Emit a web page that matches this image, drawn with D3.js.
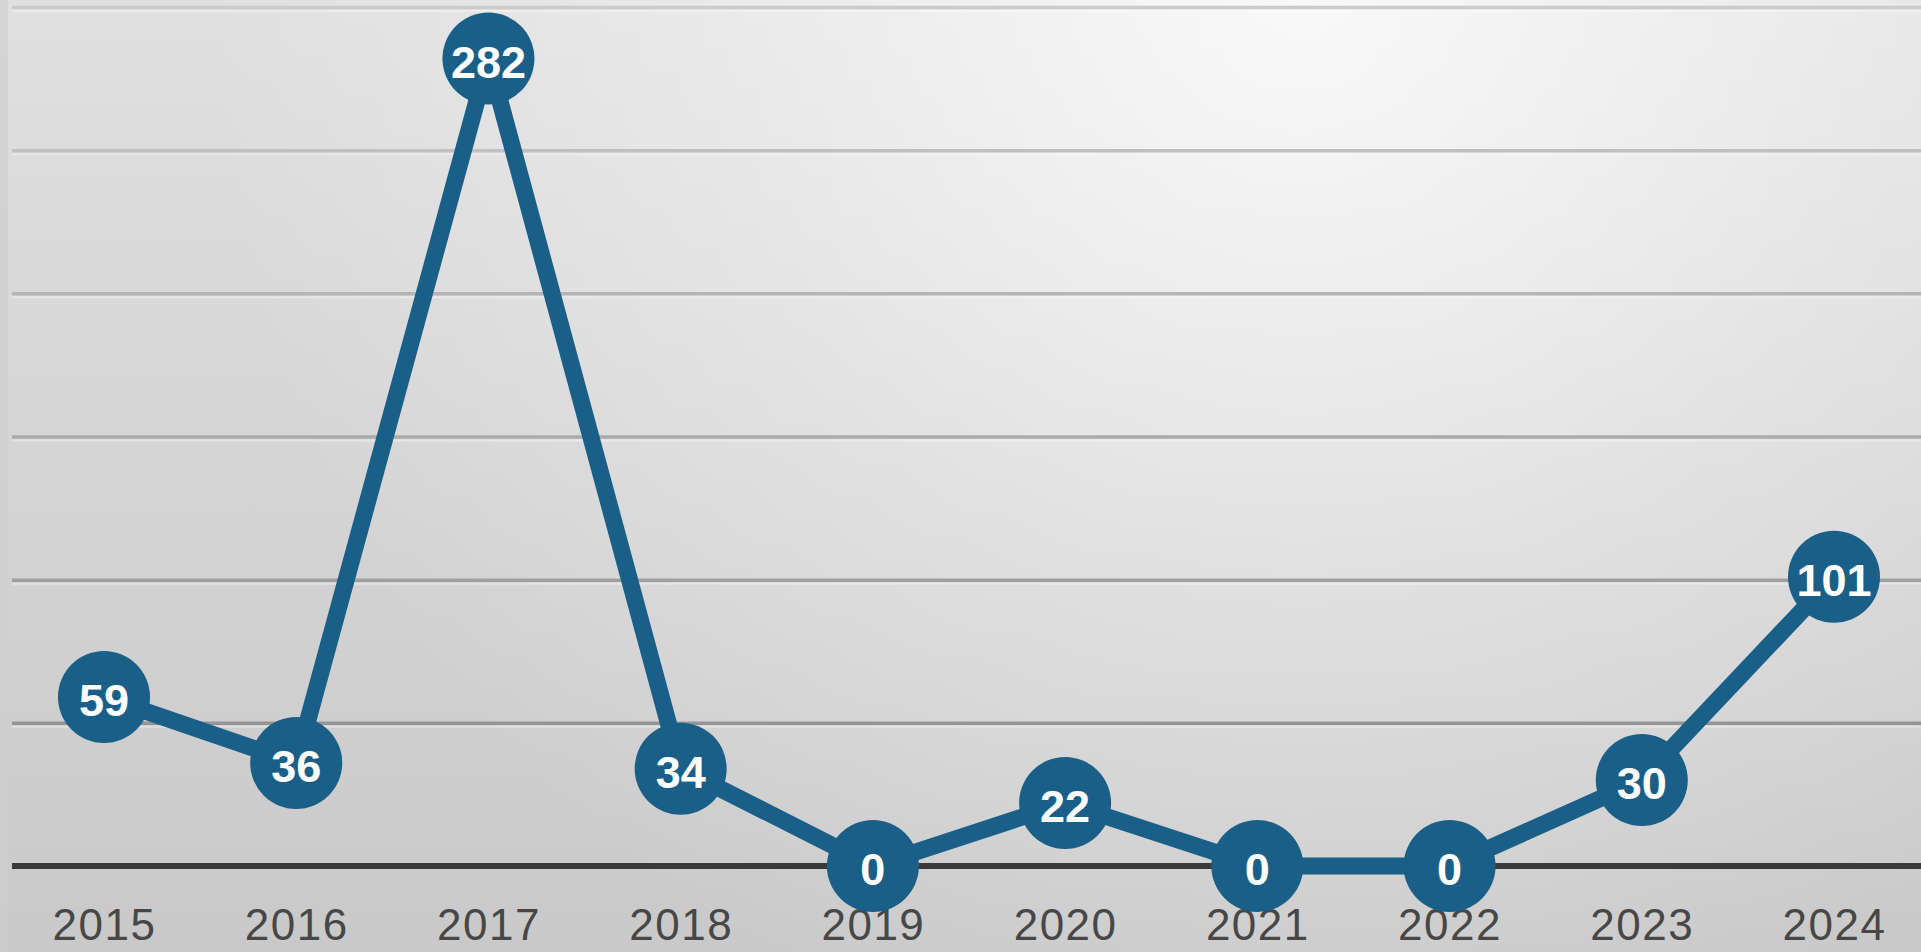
<!DOCTYPE html>
<html>
<head>
<meta charset="utf-8">
<script src="https://cdn.jsdelivr.net/npm/d3@7/dist/d3.min.js"></script>
<style>
  html, body { margin: 0; padding: 0; overflow: hidden; background: #d8d8d8; }
  svg { display: block; }
</style>
</head>
<body>
<svg id="chart" width="1921" height="952"></svg>
<script>
// ---- data ----
const years = ["2015", "2016", "2017", "2018", "2019", "2020", "2021", "2022", "2023", "2024"];
const values = [59, 36, 282, 34, 0, 22, 0, 0, 30, 101];
const yTicks = [0, 50, 100, 150, 200, 250, 300];

// ---- layout ----
const W = 1921, H = 952;
const plotLeft = 12;
const svg = d3.select("#chart");
const defs = svg.append("defs");

const lin = defs.append("linearGradient").attr("id", "bgLin")
  .attr("x1", 0).attr("y1", 0).attr("x2", 0).attr("y2", 1);
lin.append("stop").attr("offset", "0%").attr("stop-color", "#e0e0e0");
lin.append("stop").attr("offset", "100%").attr("stop-color", "#c9c9c9");

const rad = defs.append("radialGradient").attr("id", "bgRad")
  .attr("gradientUnits", "userSpaceOnUse")
  .attr("cx", 1300).attr("cy", 0).attr("r", 1100);
rad.append("stop").attr("offset", "0%").attr("stop-color", "#ffffff").attr("stop-opacity", 0.8);
rad.append("stop").attr("offset", "55%").attr("stop-color", "#ffffff").attr("stop-opacity", 0.3);
rad.append("stop").attr("offset", "100%").attr("stop-color", "#ffffff").attr("stop-opacity", 0);

svg.append("rect").attr("width", W).attr("height", H).attr("fill", "url(#bgLin)");
svg.append("rect").attr("width", W).attr("height", H).attr("fill", "url(#bgRad)");
// thin left strip
svg.append("rect").attr("x", 0).attr("y", 0).attr("width", 8).attr("height", H)
  .attr("fill", "#cfcfcf").attr("opacity", 0.7);

const x = d3.scalePoint().domain(years).range([104, 1834]);
const y = d3.scaleLinear().domain([0, 300]).range([866, 7]);

// gridlines
const gridShade = d3.scaleLinear().domain([50, 300]).range(["#959595", "#cbcbcb"]);
const grid = svg.append("g").attr("transform", `translate(${plotLeft},0)`)
  .call(d3.axisLeft(y).tickValues(yTicks.slice(1)).tickSize(-(W - plotLeft)).tickFormat(""));
grid.select(".domain").remove();
grid.selectAll(".tick line")
  .attr("stroke", d => gridShade(d)).attr("stroke-width", 3.5);
// soft highlight under each gridline
grid.selectAll(".tick").append("line")
  .attr("x1", 0).attr("x2", W - plotLeft).attr("y1", 3.5).attr("y2", 3.5)
  .attr("stroke", "#ffffff").attr("stroke-opacity", 0.35).attr("stroke-width", 2);

// baseline
svg.append("line")
  .attr("x1", plotLeft).attr("x2", W)
  .attr("y1", y(0)).attr("y2", y(0))
  .attr("stroke", "#3a3a3a").attr("stroke-width", 6);

// x axis labels
const xAxis = svg.append("g").attr("transform", `translate(0,${y(0)})`)
  .call(d3.axisBottom(x).tickSize(0).tickPadding(43));
xAxis.select(".domain").remove();
xAxis.selectAll("text")
  .attr("font-family", "'Liberation Sans', Arial, sans-serif")
  .attr("font-size", 44)
  .attr("letter-spacing", 1.5)
  .attr("fill", "#474747");

// line
const data = years.map((yr, i) => ({ yr, v: values[i] }));
const lineColor = "#1a5f87";
svg.append("path")
  .datum(data)
  .attr("fill", "none")
  .attr("stroke", lineColor)
  .attr("stroke-width", 17)
  .attr("stroke-linejoin", "round")
  .attr("d", d3.line().x(d => x(d.yr)).y(d => y(d.v)));

// markers
const pts = svg.append("g").selectAll("g").data(data).join("g")
  .attr("transform", d => `translate(${x(d.yr)},${y(d.v)})`);
pts.append("circle")
  .attr("r", 46)
  .attr("fill", lineColor);
pts.append("text")
  .attr("text-anchor", "middle")
  .attr("dy", "0.36em")
  .attr("y", 3)
  .attr("font-family", "'Liberation Sans', Arial, sans-serif")
  .attr("font-weight", "bold")
  .attr("font-size", 45)
  .attr("fill", "#ffffff")
  .text(d => d.v);
</script>
</body>
</html>
